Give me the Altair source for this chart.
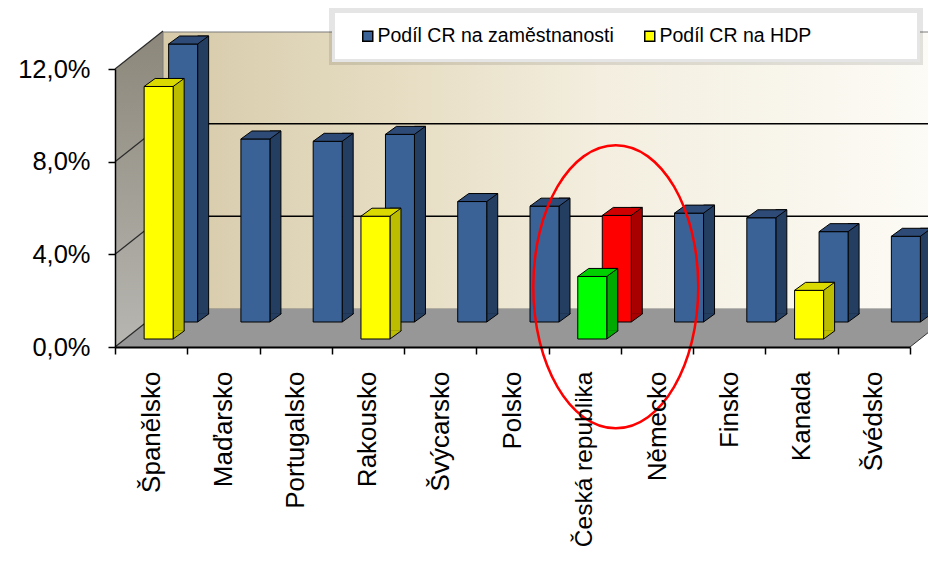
import altair as alt
import pandas as pd

# ---------------- data ----------------
countries = ["Španělsko", "Maďarsko", "Portugalsko", "Rakousko", "Švýcarsko", "Polsko",
             "Česká republika", "Německo", "Finsko", "Kanada", "Švédsko"]
employment = [12.0, 7.9, 7.8, 8.1, 5.2, 5.0, 4.6, 4.7, 4.5, 3.9, 3.7]
gdp = [10.9, None, None, 5.3, None, None, 2.7, None, None, 2.1, None]
series_names = ["Podíl CR na zaměstnanosti", "Podíl CR na HDP"]
highlight = "Česká republika"
y_ticks = [0, 4, 8, 12]
wall_grid = [4, 8]
side_grid = [0, 4, 8, 12]
ellipse_value = [2.6]

rows = []
for c, e, g in zip(countries, employment, gdp):
    rows.append({"country": c, "value": e, "row": "back",
                 "key": (highlight + " " + series_names[0]) if c == highlight else series_names[0]})
    if g is not None:
        rows.append({"country": c, "value": g, "row": "front",
                     "key": (highlight + " " + series_names[1]) if c == highlight else series_names[1]})
df = pd.DataFrame(rows)

KEYS = [series_names[0], series_names[1], highlight + " " + series_names[0], highlight + " " + series_names[1]]
FACE = ["#3A6296", "#FFFF00", "#FF0000", "#00FF00"]
SIDE = ["#243E62", "#BDBD00", "#A80000", "#00AA00"]
TOP = ["#2D4B76", "#DADA00", "#D00000", "#00D000"]

# ---------------- layout / style constants ----------------
FONT = "Liberation Sans"
PW, PH = 795, 278          # front plane of the plot
DX, DY = 48, 38            # 3-D depth of walls/floor
BAR_W, SX, SY = 29, 11, 8  # bar width and bar depth
ROW_OFF = {"back": (32, -25), "front": (7.5, -8)}

one = pd.DataFrame({"a": [1]})

Y_SCALE = alt.Scale(domain=[0, 12], nice=False)
Y_AXIS = alt.Axis(title=None, values=y_ticks, grid=False,
                  labelExpr="replace(format(datum.value, '.1f'), '.', ',') + '%'",
                  labelFont=FONT, labelFontSize=25.5, labelColor="black", labelPadding=18,
                  tickSize=7, tickWidth=1.5, tickColor="black",
                  domainColor="black", domainWidth=1.5, zindex=1)
X_AXIS = alt.Axis(title=None, labelAngle=-90, labelAlign="right", labelBaseline="middle",
                  labelFont=FONT,
                  labelFontSize={"condition": {"test": "datum.value == '" + highlight + "'", "value": 24.5},
                                 "value": 26},
                  labelColor="black", labelPadding=17,
                  labelLimit=400, labelOverlap=False, grid=False,
                  tickBand="extent", tickSize=7, tickWidth=1.5, tickColor="black",
                  domainColor="black", domainWidth=2, zindex=1)
X = alt.X("country:N", sort=countries,
          scale=alt.Scale(domain=countries, paddingInner=0, paddingOuter=0), axis=X_AXIS)


def ydatum(v):
    return alt.Y(datum=v, scale=Y_SCALE, axis=Y_AXIS)


def y2datum(v):
    return alt.Y2(datum=v)


YV = alt.Y("value:Q", scale=Y_SCALE, axis=Y_AXIS)

side_grad = alt.Gradient(gradient="linear", x1=0, x2=0, y1=0, y2=1,
                         stops=[alt.GradientStop(color="#8C877A", offset=0),
                                alt.GradientStop(color="#B7B6B1", offset=1)])
wall_grad = alt.Gradient(gradient="linear", x1=0, x2=1, y1=0, y2=0,
                         stops=[alt.GradientStop(color="#D6CAA9", offset=0),
                                alt.GradientStop(color="#E8DFC6", offset=0.33),
                                alt.GradientStop(color="#F3EEDF", offset=0.55),
                                alt.GradientStop(color="#FDFCF7", offset=1)])
FLOOR = "#979797"

# ---------------- walls & floor ----------------
side_wall = alt.Chart(one).mark_rect(fill=side_grad, yOffset=-DY).encode(
    x=alt.value(0), x2=alt.value(DX), y=ydatum(12), y2=y2datum(0))
side_cut = alt.Chart(one).mark_point(shape=f"M0,0 L0,{-DY} L{DX},{-DY} Z", size=4, filled=True,
                                     fill="white", opacity=1, strokeWidth=0).encode(
    x=alt.value(0), y=ydatum(12))
back_wall = alt.Chart(one).mark_rect(fill=wall_grad, stroke="#7A7A7A", strokeWidth=1,
                                     yOffset=-DY + 1, y2Offset=-DY).encode(
    x=alt.value(DX), x2=alt.value(PW + DX), y=ydatum(12), y2=y2datum(0))
wall_lines = alt.Chart(pd.DataFrame({"v": wall_grid})).mark_rule(
    color="black", strokeWidth=1.5, yOffset=-DY).encode(
    x=alt.value(DX), x2=alt.value(PW + DX), y=alt.Y("v:Q", scale=Y_SCALE, axis=Y_AXIS))
floor = alt.Chart(one).mark_rect(fill=FLOOR, yOffset=-DY).encode(
    x=alt.value(DX), x2=alt.value(PW), y=ydatum(0), y2=y2datum(0))
floor_left = alt.Chart(one).mark_point(shape=f"M0,0 L{DX},{-DY} L{DX},0 Z", size=4, filled=True,
                                       fill=FLOOR, opacity=1, strokeWidth=0).encode(
    x=alt.value(0), y=ydatum(0))
floor_right = alt.Chart(one).mark_point(shape=f"M0,0 L0,{-DY} L{DX},{-DY} Z", size=4, filled=True,
                                        fill=FLOOR, opacity=1, strokeWidth=0).encode(
    x=alt.value(PW), y=ydatum(0))
side_lines = alt.Chart(pd.DataFrame({"v": side_grid})).mark_rule(
    color="#2A2A2A", strokeWidth=1.2, y2Offset=-DY).encode(
    x=alt.value(0), x2=alt.value(DX),
    y=alt.Y("v:Q", scale=Y_SCALE, axis=Y_AXIS), y2=alt.Y2("v"))
floor_edge = alt.Chart(one).mark_rule(color="#333333", strokeWidth=1, y2Offset=-DY).encode(
    x=alt.value(PW), x2=alt.value(PW + DX), y=ydatum(0), y2=y2datum(0))

# ---------------- bars ----------------
PATCH = f"M0,{-SY - 0.7} L0,0 L{SX},{-SY} L{SX},{-SY - 0.7}"
TOP_PATH = f"M0,0 L{BAR_W},0 L{BAR_W + SX},{-SY} L{SX},{-SY} Z"


def fill(rng, legend=None):
    return alt.Fill("key:N", scale=alt.Scale(domain=KEYS, range=rng), legend=legend)


legend = alt.Legend(title=None, orient="none", legendX=217, legendY=-59, direction="horizontal",
                    values=series_names, fillColor="white", padding=16,
                    strokeColor="rgba(0,0,0,0.10)",
                    symbolType="square", symbolSize=100, symbolStrokeColor="black",
                    symbolStrokeWidth=1.5, symbolOffset=10,
                    labelFont=FONT, labelFontSize=19.5, labelColor="black", labelLimit=900,
                    labelOffset=0, columnPadding=16,
                    labelExpr="datum.label == '" + series_names[1] + "' ? datum.label + '"
                              + "\u00a0" * 17 + "\u200b' : datum.label")


def bar_layers(row, with_legend):
    dx, dy = ROW_OFF[row]
    src = alt.Chart(df).transform_filter(alt.datum.row == row)
    side = src.mark_bar(width=SX, xOffset=dx + BAR_W / 2 + SX / 2, yOffset=dy - SY, y2Offset=dy - SY,
                        stroke="black", strokeWidth=1).encode(
        x=X, y=YV, y2=y2datum(0), fill=fill(SIDE))
    patch = src.mark_point(shape=PATCH, size=4, filled=True, opacity=1, stroke="black", strokeWidth=1,
                           xOffset=dx + BAR_W / 2, yOffset=dy).encode(
        x=X, y=ydatum(0), fill=fill(SIDE))
    face = src.mark_bar(width=BAR_W, xOffset=dx, yOffset=dy, y2Offset=dy,
                        stroke="black", strokeWidth=1).encode(
        x=X, y=YV, y2=y2datum(0), fill=fill(FACE, legend if with_legend else None))
    top = src.mark_point(shape=TOP_PATH, size=4, filled=True, opacity=1, stroke="black", strokeWidth=1,
                         xOffset=dx - BAR_W / 2, yOffset=dy).encode(
        x=X, y=YV, fill=fill(TOP))
    return [side, patch, face, top]


ann = pd.DataFrame({"country": [highlight], "value": ellipse_value})
ellipse = alt.Chart(ann).mark_point(
    shape="M-82.5,0 A82.5,141.5 0 1,1 82.5,0 A82.5,141.5 0 1,1 -82.5,0 Z",
    size=4, filled=False, stroke="#FF0000", strokeWidth=2.5, opacity=1, xOffset=31).encode(
    x=X, y=YV)

layers = [side_wall, side_cut, back_wall, wall_lines, floor, floor_left, floor_right,
          side_lines, floor_edge] + bar_layers("back", True) + bar_layers("front", False) + [ellipse]

chart = alt.layer(*layers).resolve_scale(fill="independent").properties(
    width=PW, height=PH,
    autosize=alt.AutoSizeParams(type="none"),
    padding={"left": 107, "top": 61, "right": 18, "bottom": 206},
    background="white",
).configure_view(strokeWidth=0).configure_legend(strokeWidth=6)

chart.save("out.html", embed_options={"renderer": "svg", "actions": False})
